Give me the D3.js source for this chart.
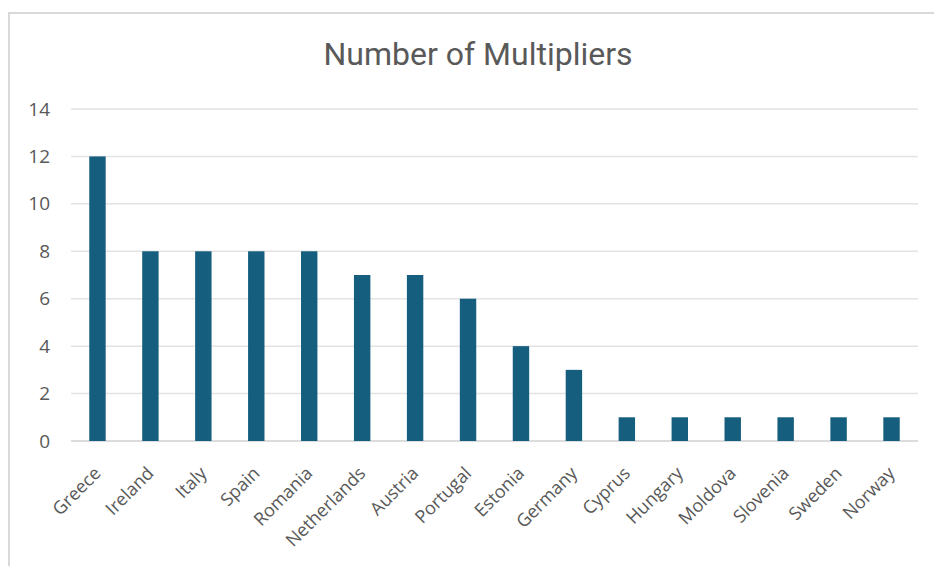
<!DOCTYPE html>
<html>
<head>
<meta charset="utf-8">
<script src="https://cdn.jsdelivr.net/npm/d3@7"></script>
<style>
  body { margin: 0; background: #fff; }
  svg { display: block; font-family: "Open Sans", "Noto Sans", sans-serif; }
</style>
</head>
<body>
<div id="chart"></div>
<script>
const countries = ['Greece', 'Ireland', 'Italy', 'Spain', 'Romania', 'Netherlands', 'Austria',
  'Portugal', 'Estonia', 'Germany', 'Cyprus', 'Hungary', 'Moldova', 'Slovenia', 'Sweden', 'Norway'];
const multipliers = [12, 8, 8, 8, 8, 7, 7, 6, 4, 3, 1, 1, 1, 1, 1, 1];
const yTicks = [0, 2, 4, 6, 8, 10, 12, 14];
const title = 'Number of Multipliers';

const width = 934, height = 566;
const margin = { top: 109, right: 16, bottom: 125, left: 71 };
const adjWidth = width - margin.left - margin.right;
const adjHeight = height - margin.top - margin.bottom;

const svg = d3.select('#chart').append('svg')
  .attr('width', width)
  .attr('height', height);

// chart area frame (only left and top edges show in the crop)
svg.append('path')
  .attr('d', 'M9,' + height + 'V13H' + width)
  .attr('fill', 'none')
  .attr('stroke', '#d9d9d9')
  .attr('stroke-width', 2);

svg.append('text')
  .attr('x', 478)
  .attr('y', 65)
  .attr('text-anchor', 'middle')
  .attr('fill', '#595959')
  .attr('font-family', 'Roboto, sans-serif')
  .attr('font-size', 32)
  .text(title);

const g = svg.append('g')
  .attr('transform', 'translate(' + margin.left + ',' + margin.top + ')');

const x = d3.scaleBand()
  .domain(countries)
  .range([0, adjWidth])
  .paddingInner(0.69)
  .paddingOuter(0.345);

const y = d3.scaleLinear()
  .domain([0, 14])
  .range([adjHeight, 0]);

// gridlines
g.append('g')
  .selectAll('line')
  .data(yTicks)
  .enter()
  .append('line')
  .attr('x1', 0)
  .attr('x2', adjWidth)
  .attr('y1', d => y(d))
  .attr('y2', d => y(d))
  .attr('stroke', d => d === 0 ? '#d0d0d0' : '#e3e3e3')
  .attr('stroke-width', 1.5);

const yAxis = g.append('g')
  .call(d3.axisLeft(y).tickValues(yTicks).tickSize(0).tickPadding(21));
yAxis.select('.domain').remove();
yAxis.selectAll('text')
  .attr('fill', '#595959')
  .attr('font-size', 19)
  .attr('font-family', '"Open Sans", sans-serif');

g.append('g')
  .selectAll('rect')
  .data(multipliers)
  .enter()
  .append('rect')
  .attr('x', (d, i) => x(countries[i]))
  .attr('y', d => y(d))
  .attr('width', x.bandwidth())
  .attr('height', d => adjHeight - y(d))
  .attr('fill', '#155e7e');

const xAxis = g.append('g')
  .attr('transform', 'translate(0,' + adjHeight + ')')
  .call(d3.axisBottom(x).tickSize(0).tickPadding(0));
xAxis.select('.domain').remove();
xAxis.selectAll('text')
  .attr('fill', '#595959')
  .attr('font-size', 18)
  .attr('font-family', '"Open Sans", sans-serif')
  .attr('text-anchor', 'end')
  .attr('dy', '0.35em')
  .attr('transform', 'translate(0,29) rotate(-45)');
</script>
</body>
</html>
